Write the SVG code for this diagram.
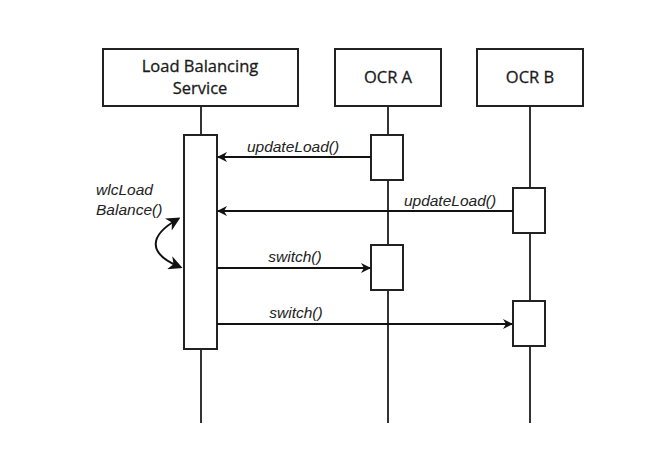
<svg xmlns="http://www.w3.org/2000/svg" width="645" height="450" viewBox="0 0 645 450">
<style>
.box{fill:#fff;stroke:#222;stroke-width:2}
.life{stroke:#333;stroke-width:2;fill:none}
.msg{stroke:#111;stroke-width:2;fill:none}
.hdr{font-family:"Open Sans",sans-serif;font-size:16.5px;fill:#1a1a1a;text-anchor:middle;stroke:#1a1a1a;stroke-width:0.3}
.lbl{font-family:"Liberation Sans",Arial,sans-serif;font-style:italic;font-size:15.5px;fill:#222}
</style>
<defs>
<marker id="ah" viewBox="0 0 10 10" refX="9" refY="5" markerWidth="10" markerHeight="10" markerUnits="userSpaceOnUse" orient="auto-start-reverse">
<path d="M0,0 L10,5 L0,10 L3,5 Z" fill="#111"/>
</marker>
<marker id="ah2" viewBox="0 0 10 10" refX="8" refY="5" markerWidth="14" markerHeight="14" markerUnits="userSpaceOnUse" orient="auto-start-reverse">
<path d="M0,0 L10,5 L0,10 L3,5 Z" fill="#111"/>
</marker>
</defs>
<rect width="645" height="450" fill="#fff"/>
<g id="lifelines">
<line class="life" x1="201" y1="106" x2="201" y2="423"/>
<line class="life" x1="388" y1="106" x2="388" y2="423"/>
<line class="life" x1="530" y1="106" x2="530" y2="423"/>
</g>
<g id="lb">
<rect class="box" x="103" y="49" width="195" height="57"/>
<text class="hdr" x="200" y="72">Load Balancing</text>
<text class="hdr" x="200" y="94">Service</text>
<rect class="box" x="184" y="135" width="33" height="214"/>
</g>
<g id="ocra">
<rect class="box" x="335" y="49" width="106" height="57"/>
<text class="hdr" x="388" y="83">OCR A</text>
<rect class="box" x="371" y="135" width="32" height="45"/>
<rect class="box" x="371" y="245" width="32" height="45"/>
</g>
<g id="ocrb">
<rect class="box" x="477" y="49" width="106" height="57"/>
<text class="hdr" x="530" y="83">OCR B</text>
<rect class="box" x="513" y="188" width="32" height="45"/>
<rect class="box" x="513" y="301" width="32" height="45"/>
</g>
<g id="connectors">
<line class="msg" x1="371" y1="157" x2="218" y2="157" marker-end="url(#ah)"/>
<line class="msg" x1="513" y1="211" x2="218" y2="211" marker-end="url(#ah)"/>
<line class="msg" x1="217" y1="268" x2="370" y2="268" marker-end="url(#ah)"/>
<line class="msg" x1="217" y1="324" x2="512" y2="324" marker-end="url(#ah)"/>
<path class="msg" stroke-width="3" d="M178,219 C148,236 148,254 180,267" marker-start="url(#ah2)" marker-end="url(#ah2)"/>
</g>
<g id="labels">
<text class="lbl" x="293" y="152" text-anchor="middle">updateLoad()</text>
<text class="lbl" x="450" y="206" text-anchor="middle">updateLoad()</text>
<text class="lbl" x="295" y="262" text-anchor="middle">switch()</text>
<text class="lbl" x="296" y="318" text-anchor="middle">switch()</text>
<text class="lbl" x="96" y="195">wlcLoad</text>
<text class="lbl" x="96" y="215">Balance()</text>
</g>
</svg>
